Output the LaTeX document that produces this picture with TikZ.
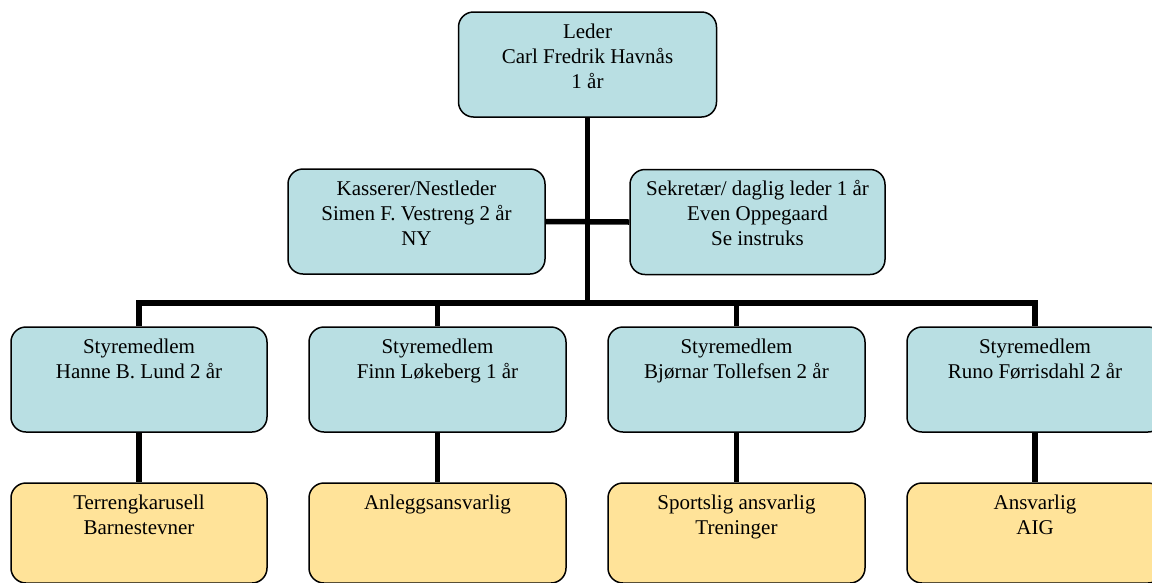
\documentclass[tikz,border=0pt]{standalone}
\usepackage{fontspec}
\setmainfont{Liberation Serif}
\definecolor{boardblue}{RGB}{185,223,227}
\definecolor{taskyellow}{RGB}{255,227,153}
\newcommand{\boxtext}[2]{\parbox[c][#1pt][t]{254pt}{\centering\fontsize{21}{25}\selectfont\rule{0pt}{26pt}#2}}
\tikzset{
  orgbox/.style={draw=black, line width=1.5pt, rounded corners=15pt, inner sep=0pt, fill=boardblue},
  taskbox/.style={orgbox, fill=taskyellow},
  conn/.style={draw=black, line width=5.5pt}
}
\begin{document}
\begin{tikzpicture}[x=1pt,y=-1pt]
\useasboundingbox (0,0) rectangle (1152,582);
\clip (0,0) rectangle (1152,582);
% board
\node[orgbox, minimum width=258pt] (lead) at (587.5,64.5) {\boxtext{105}{Leder\\Carl Fredrik Havnås\\1 år}};
\node[orgbox, minimum width=257pt] (kas) at (416.5,221.5) {\boxtext{105}{Kasserer/Nestleder\\Simen F. Vestreng 2 år\\NY}};
\node[orgbox, minimum width=255pt] (sek) at (757.5,222) {\boxtext{105}{Sekretær/ daglig leder 1 år\\Even Oppegaard\\Se instruks}};
\coordinate (bus) at (587.5,303);
% members
\node[orgbox, minimum width=256pt] (m1) at (139,379.5) {\boxtext{105}{Styremedlem\\Hanne B. Lund 2 år}};
\node[orgbox, minimum width=257pt] (m2) at (437.5,379.5) {\boxtext{105}{Styremedlem\\Finn Løkeberg 1 år}};
\node[orgbox, minimum width=257pt] (m3) at (736.5,379.5) {\boxtext{105}{Styremedlem\\Bjørnar Tollefsen 2 år}};
\node[orgbox, minimum width=256pt] (m4) at (1035,379.5) {\boxtext{105}{Styremedlem\\Runo Førrisdahl 2 år}};
% tasks
\node[taskbox, minimum width=256pt] (t1) at (139,533) {\boxtext{100}{Terrengkarusell\\Barnestevner}};
\node[taskbox, minimum width=257pt] (t2) at (437.5,533) {\boxtext{100}{Anleggsansvarlig}};
\node[taskbox, minimum width=257pt] (t3) at (736.5,533) {\boxtext{100}{Sportslig ansvarlig\\Treninger}};
\node[taskbox, minimum width=256pt] (t4) at (1035,533) {\boxtext{100}{Ansvarlig\\AIG}};
% connectors
\begin{scope}[on background layer/.try]
\end{scope}
\draw[conn] (lead.south) -- (bus);
\draw[conn] (kas.east) -- (sek.west);
\draw[conn] (m1.north) -- (m1.north |- bus) -- (m4.north |- bus) -- (m4.north);
\draw[conn] (m2.north) -- (m2.north |- bus);
\draw[conn] (m3.north) -- (m3.north |- bus);
\draw[conn] (m1.south) -- (t1.north);
\draw[conn] (m2.south) -- (t2.north);
\draw[conn] (m3.south) -- (t3.north);
\draw[conn] (m4.south) -- (t4.north);
\end{tikzpicture}
\end{document}
